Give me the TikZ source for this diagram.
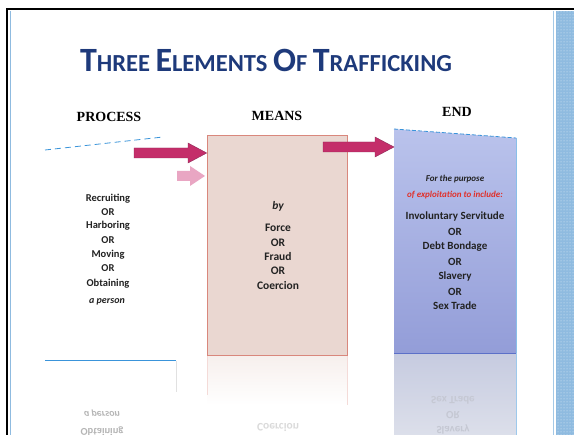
\documentclass[tikz,border=0pt]{standalone}
\usepackage{fontspec}
\setmainfont{Carlito}
\newfontfamily\headfont{Liberation Serif}
\usetikzlibrary{patterns}
\definecolor{titleblue}{HTML}{1E3A7B}
\definecolor{arrowmag}{HTML}{C42E6A}
\definecolor{arrowedge}{HTML}{8E2A58}
\definecolor{arrowpink}{HTML}{E9A6C3}
\definecolor{meansfill}{HTML}{EAD7D1}
\definecolor{meansedge}{HTML}{D9877C}
\definecolor{endtop}{HTML}{BAC3EC}
\definecolor{endbot}{HTML}{939DD8}
\definecolor{endedge}{HTML}{5C70C8}
\definecolor{endrefltop}{HTML}{C6CBE0}
\definecolor{endreflbot}{HTML}{DCDFEA}
\definecolor{lineblue}{HTML}{3A94DA}
\definecolor{textdark}{HTML}{222222}
\definecolor{stripblue}{HTML}{8FBBE0}
\definecolor{reflgray}{HTML}{B5B5B5}
\definecolor{exploitred}{HTML}{E0302A}
\newcommand{\capw}[2]{{\fontsize{34}{34}\selectfont #1}{\fontsize{24.5}{24.5}\selectfont #2}}
\begin{document}
\begin{tikzpicture}[x=1pt,y=-1pt,
  head/.style={font=\headfont\fontsize{14}{14}\selectfont\bfseries, text=black, inner sep=0pt},
  ptext/.style={font=\fontsize{10.5}{10.5}\selectfont\bfseries, text=textdark, inner sep=0pt},
  mtext/.style={font=\fontsize{11.5}{11.5}\selectfont\bfseries, text=textdark, inner sep=0pt},
  etext/.style={font=\fontsize{11}{11}\selectfont\bfseries, text=textdark, inner sep=0pt},
  itext/.style={font=\fontsize{9}{9}\selectfont\bfseries\itshape, text=textdark, inner sep=0pt},
  refl/.style={yscale=-1, transform shape, text=reflgray},
  blockarrow/.style={fill=arrowmag, draw=arrowedge, line width=0.4pt}
]
\useasboundingbox (0,0) rectangle (574,435);
\fill[white] (0,0) rectangle (574,435);

% frame
\draw[black, line width=2.5pt] (7,435) -- (7,9) -- (574,9);
\draw[stripblue, line width=1.5pt] (10.5,11) -- (10.5,435);
\draw[stripblue!80!white, line width=0.8pt] (553,11) -- (553,435);
\fill[stripblue] (556,11) rectangle (574,435);
\fill[pattern=dots, pattern color=white!75!stripblue] (556,11) rectangle (574,435);

% title
\node[font=\fontsize{24.5}{24.5}\selectfont\bfseries, text=titleblue, inner sep=0pt] (title) at (266,60)
  {\capw{T}{HREE} \capw{E}{LEMENTS} \capw{O}{F} \capw{T}{RAFFICKING}};

% column heads
\node[head] (hprocess) at (109,117) {PROCESS};
\node[head] (hmeans) at (277,116) {MEANS};
\node[head] (hend) at (457,112) {END};

% MEANS box and its reflection
\shade[top color=meansfill!40, bottom color=white] (207,355) rectangle (347,405);
\draw[meansedge!30] (207,355) -- (207,395);
\draw[meansedge!30] (347,355) -- (347,405);
\node[draw=meansedge, fill=meansfill, line width=0.6pt,
      minimum width=140, minimum height=220, inner sep=0pt] (meansbox) at (277,245) {};

% END box and its reflection
\coordinate (etl) at (394,129);
\coordinate (etr) at (516,138);
\coordinate (ebr) at (516,353);
\coordinate (ebl) at (394,353);
\coordinate (erb) at (516,435);
\coordinate (elb) at (394,435);
\shade[top color=endrefltop, bottom color=endreflbot] (ebl) -- (ebr) -- (erb) -- (elb) -- cycle;
\draw[lineblue!50, line width=0.6pt] (ebr) -- (erb);
\shade[top color=endtop, bottom color=endbot] (etl) -- (etr) -- (ebr) -- (ebl) -- cycle;
\draw[lineblue, dashed, dash pattern=on 4pt off 2pt, line width=0.8pt] (etl) -- (etr);
\draw[endedge, line width=0.8pt] (ebl) -- (ebr);
\draw[lineblue!60, line width=0.5pt] (etr) -- (ebr);

% process decorations
\coordinate (dashA) at (45,150);
\coordinate (dashB) at (163,137);
\draw[lineblue, line width=0.8pt, dash pattern=on 6pt off 4pt] (dashA) -- (dashB);
\coordinate (baseA) at (45,361);
\coordinate (baseB) at (176,361);
\draw[lineblue, line width=1pt] (baseA) -- (baseB);
\draw[reflgray!40, line width=0.4pt] (176,361) -- (176,392);

% block arrows
\coordinate (a1tip) at (meansbox.west |- 0,153);
\fill[blockarrow] (134,148) -- (188,148) -- (188,143) -- (a1tip) -- (188,163) -- (188,158) -- (134,158) -- cycle;
\coordinate (a2tip) at (205,176);
\fill[arrowpink] (177,171) -- (190,171) -- (190,166) -- (a2tip) -- (190,186) -- (190,181) -- (177,181) -- cycle;
\coordinate (a3tip) at (etl |- 0,147);
\fill[blockarrow] (323,142) -- (375,142) -- (375,137) -- (a3tip) -- (375,157) -- (375,152) -- (323,152) -- cycle;

% PROCESS text
\node[ptext] (p1) at (108,199) {Recruiting};
\node[ptext] (p2) at (108,212) {OR};
\node[ptext] (p3) at (108,226) {Harboring};
\node[ptext] (p4) at (108,240) {OR};
\node[ptext] (p5) at (108,255) {Moving};
\node[ptext] (p6) at (108,268) {OR};
\node[ptext] (p7) at (108,284) {Obtaining};
\node[ptext, font=\fontsize{10}{10}\selectfont\bfseries\itshape] (p8) at (107,302) {a person};
% PROCESS reflection
\node[ptext, refl, font=\fontsize{10}{10}\selectfont\bfseries\itshape] (rp8) at (102,413) {a person};
\node[ptext, refl] (rp7) at (102,431) {Obtaining};

% MEANS text
\node[mtext, font=\fontsize{11.5}{11.5}\selectfont\bfseries\itshape] (m0) at (278,206) {by};
\node[mtext] (m1) at (278,228) {Force};
\node[mtext] (m2) at (278,243) {OR};
\node[mtext] (m3) at (278,257) {Fraud};
\node[mtext] (m4) at (278,271) {OR};
\node[mtext] (m5) at (278,286) {Coercion};
\node[mtext, refl, text=reflgray!50] (rm5) at (278,427) {Coercion};

% END text
\node[itext] (e0) at (455,179) {For the purpose};
\node[itext, text=exploitred] (e1) at (455,195) {of exploitation to include:};
\node[etext] (e2) at (455,217) {Involuntary Servitude};
\node[etext] (e3) at (455,232) {OR};
\node[etext] (e4) at (455,247) {Debt Bondage};
\node[etext] (e5) at (455,262) {OR};
\node[etext] (e6) at (455,277) {Slavery};
\node[etext] (e7) at (455,292) {OR};
\node[etext] (e8) at (455,306) {Sex Trade};
% END reflection
\node[etext, refl, text=white!60!endtop!70!gray] (re8) at (453,400) {Sex Trade};
\node[etext, refl, text=white!60!endtop!70!gray] (re7) at (453,415) {OR};
\node[etext, refl, text=white!60!endtop!70!gray] (re6) at (453,429) {Slavery};
\end{tikzpicture}
\end{document}
